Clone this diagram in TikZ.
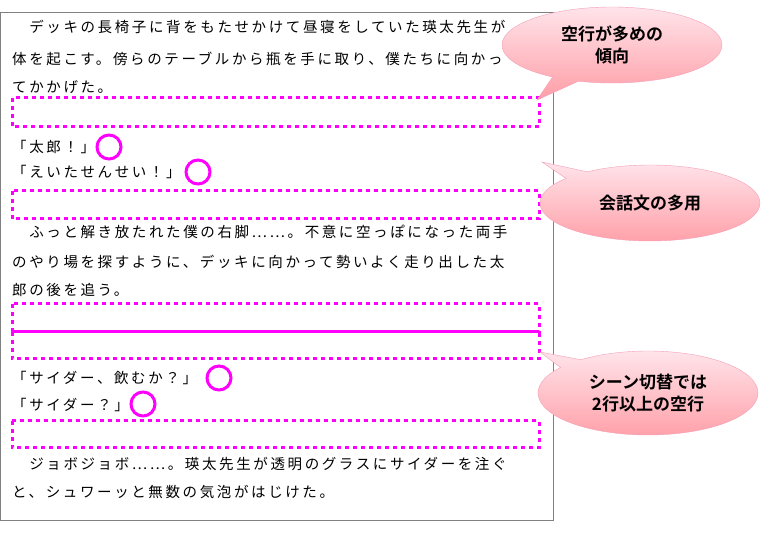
\documentclass[tikz,border=0pt]{standalone}
\usepackage{fontspec}
\newfontfamily\jpfont[LetterSpace=18]{Noto Sans CJK JP}
\newfontfamily\jpbold{Noto Sans CJK JP Bold}
\usetikzlibrary{shapes.callouts}
\definecolor{MarkMagenta}{HTML}{FF00FF}
\definecolor{BubbleTop}{HTML}{FFE4EA}
\definecolor{BubbleBottom}{HTML}{FF9DA6}
\definecolor{BubbleEdge}{HTML}{F4A0B8}

\begin{document}
\begin{tikzpicture}[x=1pt, y=-1pt,
    line/.style={anchor=west, inner sep=0pt, font=\jpfont\fontsize{14.5}{16}\selectfont},
    blank/.style={draw=MarkMagenta, line width=3pt, dash pattern=on 4pt off 4pt},
    ring/.style={draw=MarkMagenta, line width=3pt, circle, minimum size=24pt, inner sep=0pt},
    bubble/.style={ellipse callout, draw=BubbleEdge, top color=BubbleTop, bottom color=BubbleBottom,
        minimum width=220pt, minimum height=76pt, align=center, inner sep=0pt,
        font=\jpbold\fontsize{17}{22}\selectfont}
]
\useasboundingbox (0,0) rectangle (769,534);
\draw[gray] (0,12) rectangle (553,520);

% text lines
\node[line] (l1) at (12,27) {　デッキの長椅子に背をもたせかけて昼寝をしていた瑛太先生が};
\node[line] (l2) at (12,59) {体を起こす。傍らのテーブルから瓶を手に取り、僕たちに向かっ};
\node[line] (l3) at (12,87) {てかかげた。};
\node[line] (l4) at (12,147) {「太郎！」};
\node[line] (l5) at (12,172) {「えいたせんせい！」};
\node[line] (l6) at (12,232) {　ふっと解き放たれた僕の右脚……。不意に空っぽになった両手};
\node[line] (l7) at (12,262) {のやり場を探すように、デッキに向かって勢いよく走り出した太};
\node[line] (l8) at (12,290) {郎の後を追う。};
\node[line] (l9) at (12,378) {「サイダー、飲むか？」};
\node[line] (l10) at (12,405) {「サイダー？」};
\node[line] (l11) at (12,464) {　ジョボジョボ……。瑛太先生が透明のグラスにサイダーを注ぐ};
\node[line] (l12) at (12,492) {と、シュワーッと無数の気泡がはじけた。};

% blank lines
\draw[blank] (12,98) rectangle (539,127);
\draw[blank] (12,191) rectangle (539,219);
\draw[blank] (12,304) rectangle (539,332);
\draw[blank] (12,332) rectangle (539,359);
\draw[blank] (12,421) rectangle (539,448);

% dialogue marks
\node[ring] (m1) at (109,147) {};
\node[ring] (m2) at (198,172) {};
\node[ring] (m3) at (219,378) {};
\node[ring] (m4) at (143,404) {};

% callouts
\coordinate (p1) at (537,100);
\coordinate (p2) at (542,162);
\coordinate (p3) at (540,352);
\node[bubble, callout absolute pointer=(p1)] (b1) at (612,45) {空行が多めの\\傾向};
\node[bubble, callout absolute pointer=(p2)] (b2) at (650,203) {会話文の多用};
\node[bubble, minimum height=84pt, callout absolute pointer=(p3)] (b3) at (648,393) {シーン切替では\\2行以上の空行};
\end{tikzpicture}
\end{document}
